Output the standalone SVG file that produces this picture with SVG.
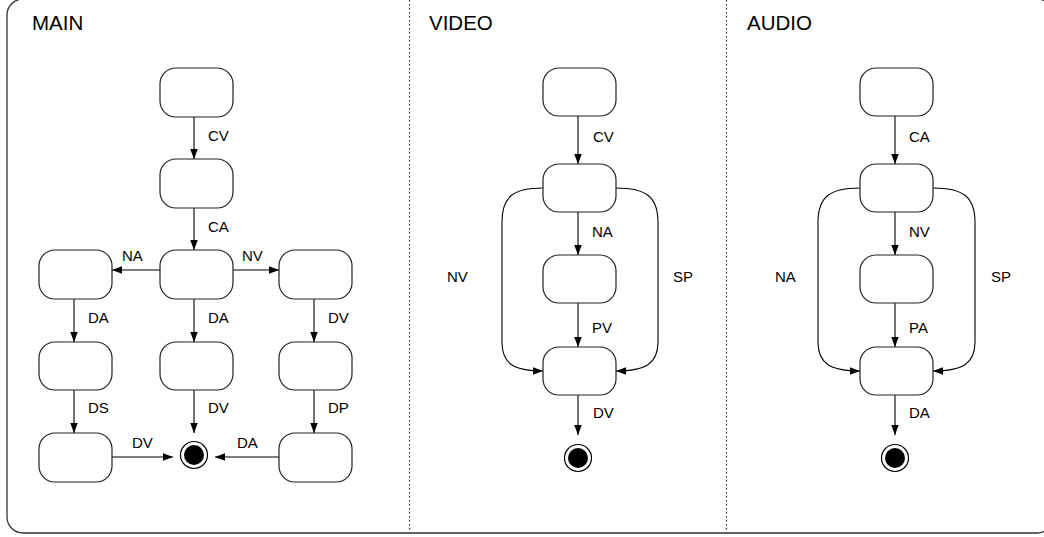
<svg xmlns="http://www.w3.org/2000/svg" width="1044" height="537" viewBox="0 0 1044 537">
<style>
.frame{fill:none;stroke:#333;stroke-width:1.3}
.div{stroke:#333;stroke-width:1.2;stroke-dasharray:1.5 2.5}
.node{fill:#fff;stroke:#222;stroke-width:1.2}
.edge{fill:none;stroke:#000;stroke-width:1.1;marker-end:url(#ah)}
.title{font-family:"Liberation Sans",Arial,sans-serif;font-size:20.5px;fill:#000}
.lbl{font-family:"Liberation Sans",Arial,sans-serif;font-size:15px;fill:#000}
.endo{fill:#fff;stroke:#000;stroke-width:1.2}
.endi{fill:#000}
</style>
<defs>
<marker id="ah" markerUnits="userSpaceOnUse" markerWidth="11" markerHeight="8" refX="10" refY="3.75" orient="auto">
<path d="M0,0 L10,3.75 L0,7.5 z" fill="#000"/>
</marker>
</defs>
<rect class="frame" x="7" y="-1" width="1046" height="534" rx="16"/>
<line class="div" x1="409.5" y1="0" x2="409.5" y2="533"/>
<line class="div" x1="726.5" y1="0" x2="726.5" y2="533"/>
<text class="title" x="32" y="30">MAIN</text>
<text class="title" x="429" y="30">VIDEO</text>
<text class="title" x="747" y="30">AUDIO</text>

<g id="connectors">
<!-- MAIN -->
<line class="edge" x1="194" y1="117" x2="194" y2="159"/>
<line class="edge" x1="194" y1="208" x2="194" y2="250"/>
<line class="edge" x1="160" y1="270" x2="112" y2="270"/>
<line class="edge" x1="233" y1="270" x2="279" y2="270"/>
<line class="edge" x1="74" y1="299" x2="74" y2="342"/>
<line class="edge" x1="194" y1="299" x2="194" y2="342"/>
<line class="edge" x1="314" y1="299" x2="314" y2="342"/>
<line class="edge" x1="74" y1="390" x2="74" y2="433"/>
<line class="edge" x1="194" y1="390" x2="194" y2="433"/>
<line class="edge" x1="314" y1="390" x2="314" y2="433"/>
<line class="edge" x1="112" y1="457" x2="173" y2="457"/>
<line class="edge" x1="279" y1="457" x2="215" y2="457"/>
<!-- VIDEO -->
<line class="edge" x1="578" y1="116" x2="578" y2="164"/>
<line class="edge" x1="578" y1="212" x2="578" y2="255"/>
<line class="edge" x1="578" y1="303" x2="578" y2="347"/>
<line class="edge" x1="578" y1="395" x2="578" y2="435"/>
<path class="edge" d="M543,188 C514,188 502,196 502,222 L502,342 C502,364 514,371 543,371"/>
<path class="edge" d="M616,188 C645,188 658,196 658,222 L658,342 C658,364 645,371 616,371"/>
<!-- AUDIO -->
<line class="edge" x1="895" y1="116" x2="895" y2="164"/>
<line class="edge" x1="895" y1="212" x2="895" y2="255"/>
<line class="edge" x1="895" y1="303" x2="895" y2="347"/>
<line class="edge" x1="895" y1="395" x2="895" y2="435"/>
<path class="edge" d="M860,188 C831,188 818,196 818,222 L818,342 C818,364 831,371 860,371"/>
<path class="edge" d="M933,188 C962,188 975,196 975,222 L975,342 C975,364 962,371 933,371"/>
</g>

<g id="labels">
<text class="lbl" x="208" y="141">CV</text>
<text class="lbl" x="208" y="232">CA</text>
<text class="lbl" x="122" y="261">NA</text>
<text class="lbl" x="242" y="261">NV</text>
<text class="lbl" x="88" y="323">DA</text>
<text class="lbl" x="208" y="323">DA</text>
<text class="lbl" x="328" y="323">DV</text>
<text class="lbl" x="88" y="413">DS</text>
<text class="lbl" x="208" y="413">DV</text>
<text class="lbl" x="328" y="413">DP</text>
<text class="lbl" x="132" y="448">DV</text>
<text class="lbl" x="237" y="448">DA</text>
<text class="lbl" x="593" y="142">CV</text>
<text class="lbl" x="592" y="237">NA</text>
<text class="lbl" x="592" y="333">PV</text>
<text class="lbl" x="593" y="418">DV</text>
<text class="lbl" x="447" y="282">NV</text>
<text class="lbl" x="673" y="282">SP</text>
<text class="lbl" x="909" y="142">CA</text>
<text class="lbl" x="909" y="237">NV</text>
<text class="lbl" x="909" y="333">PA</text>
<text class="lbl" x="909" y="418">DA</text>
<text class="lbl" x="775" y="282">NA</text>
<text class="lbl" x="991" y="282">SP</text>
</g>

<!-- MAIN nodes -->
<g id="m1"><rect class="node" x="160" y="68" width="73" height="49" rx="16"/></g>
<g id="m2"><rect class="node" x="160" y="159" width="73" height="49" rx="16"/></g>
<g id="m3l"><rect class="node" x="39" y="250" width="73" height="49" rx="16"/></g>
<g id="m3c"><rect class="node" x="160" y="250" width="73" height="49" rx="16"/></g>
<g id="m3r"><rect class="node" x="279" y="250" width="73" height="49" rx="16"/></g>
<g id="m4l"><rect class="node" x="39" y="342" width="73" height="48" rx="16"/></g>
<g id="m4c"><rect class="node" x="160" y="342" width="73" height="48" rx="16"/></g>
<g id="m4r"><rect class="node" x="279" y="342" width="73" height="48" rx="16"/></g>
<g id="m5l"><rect class="node" x="39" y="433" width="73" height="49" rx="16"/></g>
<g id="m5r"><rect class="node" x="279" y="433" width="73" height="49" rx="16"/></g>
<g id="mEnd"><circle class="endo" cx="194" cy="455" r="13.5"/><circle class="endi" cx="194" cy="455" r="10"/></g>
<!-- VIDEO nodes -->
<g id="v1"><rect class="node" x="543" y="68" width="73" height="48" rx="16"/></g>
<g id="v2"><rect class="node" x="543" y="164" width="73" height="48" rx="16"/></g>
<g id="v3"><rect class="node" x="543" y="255" width="73" height="48" rx="16"/></g>
<g id="v4"><rect class="node" x="543" y="347" width="73" height="48" rx="16"/></g>
<g id="vEnd"><circle class="endo" cx="578" cy="458" r="13.5"/><circle class="endi" cx="578" cy="458" r="10"/></g>
<!-- AUDIO nodes -->
<g id="a1"><rect class="node" x="860" y="68" width="73" height="48" rx="16"/></g>
<g id="a2"><rect class="node" x="860" y="164" width="73" height="48" rx="16"/></g>
<g id="a3"><rect class="node" x="860" y="255" width="73" height="48" rx="16"/></g>
<g id="a4"><rect class="node" x="860" y="347" width="73" height="48" rx="16"/></g>
<g id="aEnd"><circle class="endo" cx="895" cy="458" r="13.5"/><circle class="endi" cx="895" cy="458" r="10"/></g>
</svg>
